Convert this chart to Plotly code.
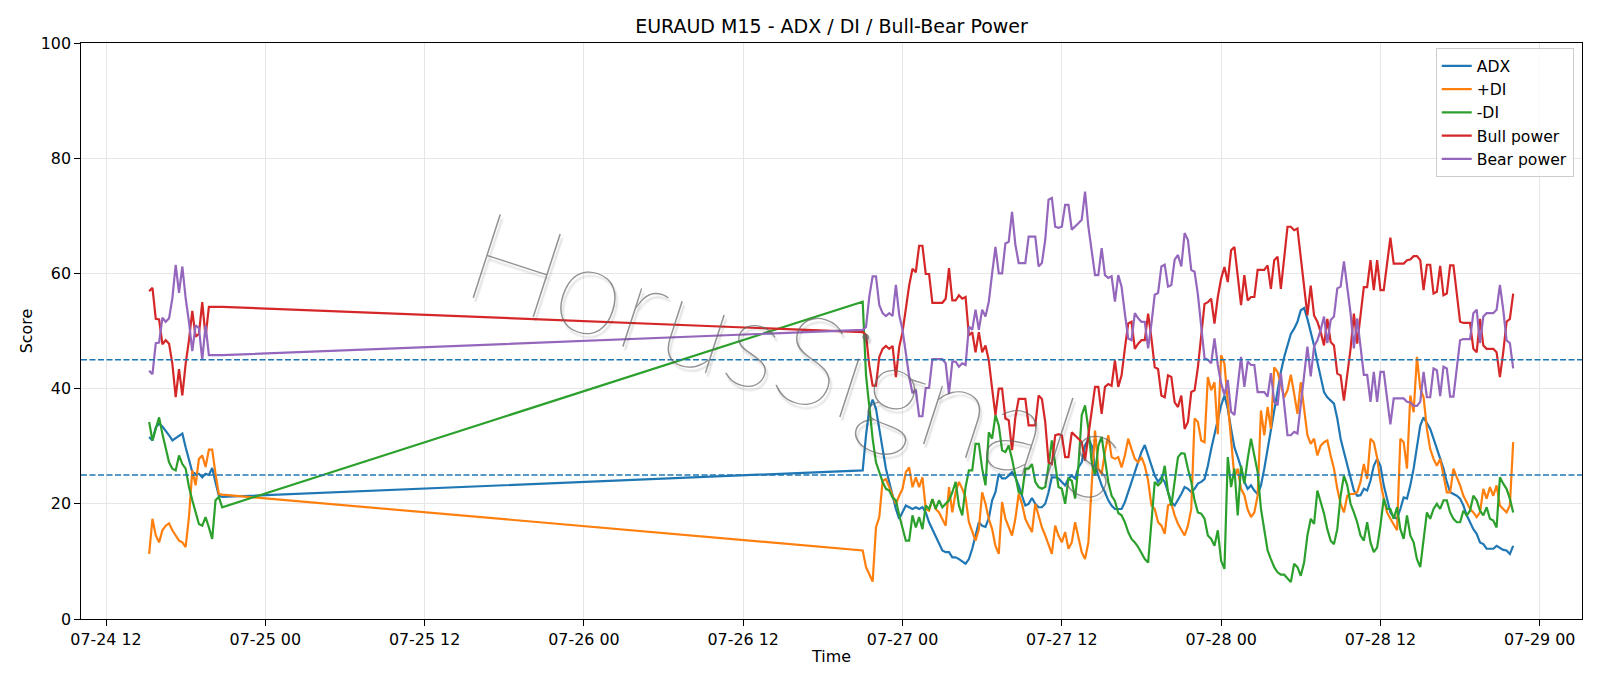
import pandas as pd
import plotly.graph_objects as go

# ---------------- data ----------------
# timestamps: Friday session segment, then Sunday-open onward (M15 bars)
times_a = pd.date_range("2020-07-24 15:15", "2020-07-24 20:45", freq="15min")
times_b = pd.date_range("2020-07-26 21:00", "2020-07-28 22:00", freq="15min")
times = list(times_a) + list(times_b)

adx_a = [31.6, 31.0, 33.3, 33.9, 33.4, 32.7, 31.9, 31.0, 31.4, 31.9,
         32.2, 29.8, 27.5, 25.5, 25.2, 25.2, 24.6, 25.2, 25.0, 26.2,
         23.7, 21.4, 21.2]
adx_b = [25.8, 31.9, 36.5, 38.1, 36.5, 33.0, 29.5, 26.1, 23.8, 21.4,
         19.1, 17.4, 18.5, 19.7, 19.4, 19.1, 19.4, 19.1, 19.4, 18.5,
         16.8, 15.6, 14.5, 13.3, 11.9, 11.6, 11.6, 10.7, 10.7, 10.4,
         10.0, 9.6, 10.4, 12.2, 14.5, 16.8, 16.2, 16.0, 17.5, 20.6,
         22.0, 25.2, 24.4, 24.4, 24.9, 25.5, 24.6, 23.2, 21.4, 19.7,
         20.0, 21.0, 20.0, 19.4, 19.4, 20.0, 22.0, 24.6, 24.6, 24.4,
         23.8, 23.2, 24.4, 24.9, 24.4, 26.3, 27.2, 30.1, 31.3, 30.1,
         26.6, 24.9, 23.2, 22.0, 20.6, 19.7, 19.1, 19.1, 19.1, 20.3,
         22.0, 23.8, 25.5, 27.2, 29.0, 30.2, 28.4, 26.6, 24.9, 23.8,
         24.6, 23.8, 22.0, 20.3, 19.7, 20.6, 21.7, 22.9, 22.6, 22.0,
         22.6, 23.5, 23.8, 24.3, 26.6, 29.5, 31.9, 34.8, 37.1, 38.8,
         36.5, 33.0, 29.8, 28.1, 26.3, 23.8, 22.6, 23.2, 22.3, 21.7,
         23.2, 26.1, 29.5, 33.0, 36.5, 40.0, 42.9, 45.5, 47.5, 49.5,
         50.4, 51.6, 53.6, 54.0, 52.1, 49.8, 47.5, 44.6, 41.7, 39.4,
         38.5, 37.9, 37.4, 34.8, 31.3, 29.0, 26.6, 24.3, 22.3, 21.4,
         21.5, 22.6, 22.3, 24.0, 26.6, 27.8, 26.6, 23.2, 20.9, 18.5,
         17.7, 17.4, 19.1, 21.1, 20.9, 23.2, 26.1, 30.1, 33.6, 35.0,
         33.9, 33.0, 31.3, 29.5, 28.1, 26.1, 23.8, 22.0, 21.7, 21.4,
         20.9, 19.7, 18.0, 16.8, 15.6, 14.8, 13.3, 13.0, 12.2, 12.2,
         12.2, 12.7, 12.3, 12.0, 11.9, 11.3, 12.7]

pdi_a = [11.3, 17.4, 14.5, 13.3, 15.4, 16.2, 16.6, 15.4, 14.5, 13.6,
         13.3, 12.5, 17.7, 25.8, 23.2, 27.8, 28.4, 26.4, 29.4, 29.4,
         25.2, 21.7, 21.6]
pdi_b = [11.9, 9.0, 7.8, 6.5, 15.9, 17.7, 24.0, 24.3, 22.9, 21.4,
         20.0, 21.4, 22.6, 25.5, 26.3, 22.9, 24.6, 22.9, 24.6, 19.1,
         18.8, 20.8, 19.1, 18.5, 17.4, 16.2, 22.9, 18.5, 22.0, 23.8,
         22.6, 21.1, 16.8, 15.1, 13.6, 15.6, 22.0, 20.0, 17.4, 15.6,
         12.7, 11.3, 20.3, 17.4, 15.9, 14.5, 17.4, 21.7, 20.0, 17.4,
         16.2, 15.1, 20.0, 18.0, 15.9, 14.5, 13.0, 11.3, 16.2, 14.5,
         13.3, 15.1, 12.2, 13.3, 16.8, 13.9, 11.6, 10.4, 13.3, 23.2,
         32.7, 26.1, 25.2, 29.0, 31.9, 28.1, 27.8, 28.1, 26.3, 28.4,
         31.3, 29.5, 27.8, 27.2, 28.1, 26.6, 24.0, 19.7, 19.1, 16.8,
         16.2, 14.8, 19.7, 20.0, 18.0, 16.5, 15.6, 14.5, 16.2, 19.1,
         34.8, 34.2, 31.0, 30.7, 42.0, 39.7, 41.1, 32.1, 45.8, 44.3,
         37.6, 31.3, 24.6, 26.1, 22.6, 21.5, 19.0, 17.7, 18.5, 21.4,
         36.2, 31.9, 36.8, 33.0, 43.7, 42.9, 40.8, 38.5, 39.7, 42.4,
         39.1, 35.6, 41.1, 36.2, 31.9, 30.4, 31.3, 28.4, 30.1, 30.7,
         31.0, 28.4, 26.1, 22.6, 20.0, 18.5, 21.4, 21.7, 21.7, 22.0,
         23.8, 26.9, 24.3, 31.3, 30.7, 28.0, 23.8, 20.9, 18.5, 17.4,
         16.5, 15.4, 31.3, 30.7, 26.1, 38.8, 35.9, 45.5, 40.0, 38.5,
         33.0, 29.5, 27.8, 26.6, 27.8, 24.9, 22.0, 22.0, 26.1, 24.6,
         23.2, 21.4, 20.3, 19.1, 18.5, 17.7, 18.5, 22.6, 20.9, 22.9,
         21.4, 23.2, 19.7, 19.1, 18.5, 19.7, 30.7]

mdi_a = [34.2, 31.0, 33.0, 35.0, 32.1, 29.8, 27.2, 26.1, 25.8, 28.4,
         26.9, 26.1, 22.9, 20.6, 18.5, 16.5, 16.2, 17.7, 15.9, 13.9,
         20.6, 21.2, 19.4]
mdi_b = [55.1, 42.3, 36.5, 31.3, 27.2, 25.5, 23.8, 22.6, 22.3, 21.1,
         20.6, 18.0, 15.6, 13.6, 13.6, 18.0, 15.9, 17.7, 15.6, 19.7,
         19.1, 20.8, 19.1, 20.6, 19.4, 20.0, 20.6, 22.0, 23.8, 19.7,
         18.0, 22.9, 25.8, 25.8, 30.4, 30.4, 26.1, 23.2, 32.4, 31.3,
         35.4, 33.6, 29.3, 29.0, 30.1, 27.8, 24.9, 22.0, 21.7, 26.1,
         26.1, 26.9, 23.8, 22.9, 22.6, 22.9, 26.6, 31.0, 26.9, 22.9,
         22.6, 20.0, 24.4, 24.0, 20.9, 26.6, 35.4, 37.1, 33.0, 27.2,
         24.9, 30.1, 31.6, 27.8, 23.8, 21.4, 20.5, 18.4, 18.0, 16.8,
         15.1, 13.9, 13.3, 12.5, 11.3, 10.4, 9.8, 17.4, 23.8, 23.2,
         23.8, 26.6, 22.0, 19.7, 23.8, 28.1, 28.8, 28.7, 26.1, 23.8,
         20.6, 18.5, 18.3, 17.4, 14.5, 13.9, 12.7, 15.4, 10.1, 8.7,
         28.1, 22.9, 26.1, 18.0, 26.6, 23.5, 27.8, 31.3, 28.4, 25.5,
         19.1, 15.6, 11.9, 10.4, 9.0, 8.1, 7.7, 7.7, 7.0, 6.4,
         9.6, 9.0, 7.5, 9.8, 14.5, 17.4, 16.5, 22.3, 20.3, 18.3,
         15.6, 13.6, 13.0, 15.6, 21.4, 24.9, 23.2, 20.0, 18.5, 16.8,
         14.5, 13.6, 16.8, 13.3, 11.6, 12.4, 16.2, 20.9, 19.1, 19.1,
         17.4, 19.4, 15.6, 13.9, 18.0, 14.5, 13.3, 10.4, 9.0, 13.3,
         18.5, 17.4, 19.1, 20.0, 19.1, 20.6, 20.6, 18.5, 17.4, 16.8,
         16.8, 18.8, 18.0, 18.8, 21.4, 20.6, 18.8, 18.0, 19.4, 17.4,
         17.1, 15.9, 24.6, 23.5, 22.6, 20.9, 18.5]

bull_a = [56.9, 57.5, 52.1, 52.0, 47.7, 48.4, 47.8, 44.3, 38.5, 43.4,
          38.8, 44.3, 48.4, 53.5, 49.0, 49.5, 55.0, 49.0, 54.2, 54.2,
          54.2, 54.2, 54.2]
bull_b = [49.8, 49.3, 44.0, 40.5, 40.5, 45.5, 46.9, 47.4, 46.9, 47.4,
          42.0, 47.2, 49.8, 53.9, 57.9, 60.8, 60.2, 64.8, 64.8, 59.9,
          59.9, 54.9, 54.9, 54.9, 54.9, 55.6, 60.9, 55.3, 55.3, 56.2,
          55.6, 55.9, 49.2, 49.8, 46.3, 49.8, 46.3, 47.5, 44.9, 40.0,
          35.4, 40.0, 40.0, 34.8, 34.5, 29.3, 35.0, 38.2, 38.2, 38.2,
          33.6, 33.6, 33.6, 38.8, 38.2, 34.2, 27.2, 26.9, 31.9, 32.1,
          31.9, 28.1, 28.1, 32.4, 31.9, 31.3, 30.7, 27.5, 31.9, 36.5,
          40.3, 40.3, 35.6, 40.3, 40.8, 40.5, 44.9, 40.3, 42.3, 47.0,
          51.3, 51.6, 46.9, 47.8, 48.4, 48.4, 53.0, 48.7, 43.7, 43.4,
          38.8, 38.5, 42.3, 42.0, 37.6, 36.8, 38.8, 33.0, 34.2, 39.4,
          39.7, 43.7, 49.5, 54.7, 55.0, 55.6, 51.3, 55.9, 59.1, 61.1,
          58.5, 64.0, 64.6, 59.7, 54.5, 59.7, 55.3, 55.9, 55.9, 60.6,
          60.6, 60.6, 61.4, 57.3, 62.3, 62.9, 57.3, 62.6, 68.1, 68.1,
          67.5, 67.8, 62.6, 57.3, 52.7, 57.9, 52.7, 51.6, 49.8, 47.5,
          52.1, 48.1, 47.5, 42.6, 42.3, 37.9, 42.3, 46.9, 53.0, 47.8,
          52.7, 57.6, 57.6, 62.3, 57.1, 62.3, 57.1, 57.1, 61.7, 66.2,
          61.7, 61.7, 61.7, 61.7, 62.3, 62.4, 63.0, 63.0, 62.3, 57.1,
          61.5, 61.5, 56.5, 56.8, 61.3, 56.2, 56.5, 61.4, 61.4, 56.2,
          51.6, 51.4, 51.4, 51.4, 46.9, 46.3, 52.1, 47.5, 46.9, 46.9,
          46.9, 46.3, 42.0, 46.3, 51.6, 52.1, 56.5]

bear_a = [43.1, 42.5, 47.9, 48.0, 52.3, 51.6, 52.2, 55.7, 61.5, 56.6,
          61.2, 55.7, 51.6, 46.5, 51.0, 50.5, 45.0, 51.0, 45.8, 45.8,
          45.8, 45.8, 45.8]
bear_b = [50.2, 50.7, 56.0, 59.5, 59.5, 54.5, 53.1, 52.6, 53.1, 52.6,
          58.0, 52.8, 50.2, 46.1, 42.1, 39.2, 39.8, 35.2, 35.2, 40.1,
          40.1, 45.1, 45.1, 45.1, 45.1, 44.4, 39.1, 44.7, 44.7, 43.8,
          44.4, 44.1, 50.8, 50.2, 53.7, 50.2, 53.7, 52.5, 55.1, 60.0,
          64.6, 60.0, 60.0, 65.2, 65.5, 70.7, 65.0, 61.8, 61.8, 61.8,
          66.4, 66.4, 66.4, 61.2, 61.8, 65.8, 72.8, 73.1, 68.1, 67.9,
          68.1, 71.9, 71.9, 67.6, 68.1, 68.7, 69.3, 74.2, 68.1, 63.5,
          59.7, 59.7, 64.4, 59.7, 59.2, 59.5, 55.1, 59.7, 57.7, 53.0,
          48.7, 48.4, 53.1, 52.2, 51.6, 51.6, 47.0, 51.3, 56.3, 56.6,
          61.2, 61.5, 57.7, 58.0, 62.4, 63.2, 61.2, 67.0, 65.8, 60.6,
          60.3, 56.3, 50.5, 45.3, 45.0, 44.4, 48.7, 44.1, 40.9, 38.9,
          41.5, 36.0, 35.4, 40.3, 45.5, 40.3, 44.7, 44.1, 44.1, 39.4,
          39.4, 39.4, 38.6, 42.7, 37.7, 37.1, 42.7, 37.4, 31.9, 31.9,
          32.5, 32.2, 37.4, 42.7, 47.3, 42.1, 47.3, 48.4, 50.2, 52.5,
          47.9, 51.9, 52.5, 57.4, 57.7, 62.1, 57.7, 53.1, 47.0, 52.2,
          47.3, 42.4, 42.4, 37.7, 42.9, 37.7, 42.9, 42.9, 38.3, 33.8,
          38.3, 38.3, 38.3, 38.3, 37.7, 37.6, 37.0, 37.0, 37.7, 42.9,
          38.5, 38.5, 43.5, 43.2, 38.7, 43.8, 43.5, 38.6, 38.6, 43.8,
          48.4, 48.6, 48.6, 48.6, 53.1, 53.7, 47.9, 52.5, 53.1, 53.1,
          53.1, 53.7, 58.0, 53.7, 48.4, 47.9, 43.5]

LEVELS = [25, 45]
TITLE = "EURAUD M15 - ADX / DI / Bull-Bear Power"
X_TICK_LABEL_FMT = "%m-%d %H"

for arr in (adx_a, pdi_a, mdi_a, bull_a, bear_a):
    assert len(arr) == len(times_a), len(arr)
for arr in (adx_b, pdi_b, mdi_b, bull_b, bear_b):
    assert len(arr) == len(times_b), len(arr)

series = [
    ("ADX", adx_a + adx_b, "#1f77b4"),
    ("+DI", pdi_a + pdi_b, "#ff7f0e"),
    ("-DI", mdi_a + mdi_b, "#2ca02c"),
    ("Bull power", bull_a + bull_b, "#d62728"),
    ("Bear power", bear_a + bear_b, "#9467bd"),
]

# ---------------- figure ----------------
fig = go.Figure()
for name, vals, color in series:
    fig.add_trace(go.Scatter(x=times, y=vals, mode="lines", name=name,
                             line=dict(color=color, width=2.2)))

for lvl in LEVELS:
    fig.add_shape(type="line", xref="paper", x0=0, x1=1, yref="y", y0=lvl, y1=lvl,
                  line=dict(color="#1f77b4", width=1.6, dash="6px,2.5px"), layer="above")

fig.add_annotation(text="HorusSignals", xref="paper", yref="paper",
                   x=0.478, y=0.462, xanchor="center", yanchor="middle",
                   showarrow=False, textangle=18,
                   font=dict(family="Lato", size=125, weight=100,
                             color="rgba(100,100,100,0.7)",
                             shadow="3px 3px 2px rgba(0,0,0,0.25)"))

axis_common = dict(
    ticks="outside", ticklen=5.6, tickwidth=1.27, tickcolor="black",
    showline=True, linecolor="black", linewidth=1.27, mirror=True,
    showgrid=True, gridcolor="#e6e6e6", gridwidth=1.27, zeroline=False,
    tickfont=dict(size=15.9, color="black"),
)

fig.update_xaxes(type="date", range=["2020-07-24 10:07", "2020-07-29 03:11"],
                 tickformat=X_TICK_LABEL_FMT, dtick=43200000, tick0="2020-07-24 00:00",
                 title=dict(text="Time", standoff=3, font=dict(size=15.9)),
                 **axis_common)
fig.update_yaxes(range=[0, 100], dtick=20,
                 title=dict(text="Score", standoff=4, font=dict(size=15.9)),
                 **axis_common)

fig.update_layout(
    width=1600, height=686,
    margin=dict(l=81, r=18, t=43, b=67),
    paper_bgcolor="white", plot_bgcolor="white",
    font=dict(family="DejaVu Sans", size=15.9, color="black"),
    title=dict(text=TITLE, x=0.5, xref="paper", xanchor="center",
               y=1 - 26.5 / 686, yref="container", yanchor="middle",
               font=dict(size=19, color="black")),
    legend=dict(x=0.9945, y=0.991, xanchor="right", yanchor="top",
                bgcolor="rgba(255,255,255,0.8)", bordercolor="#cccccc", borderwidth=1,
                font=dict(size=15.6), itemwidth=30, tracegroupgap=0),
    showlegend=True,
)

fig.write_html("out.html", post_script="document.body.style.margin='0';document.body.style.padding='0';")
